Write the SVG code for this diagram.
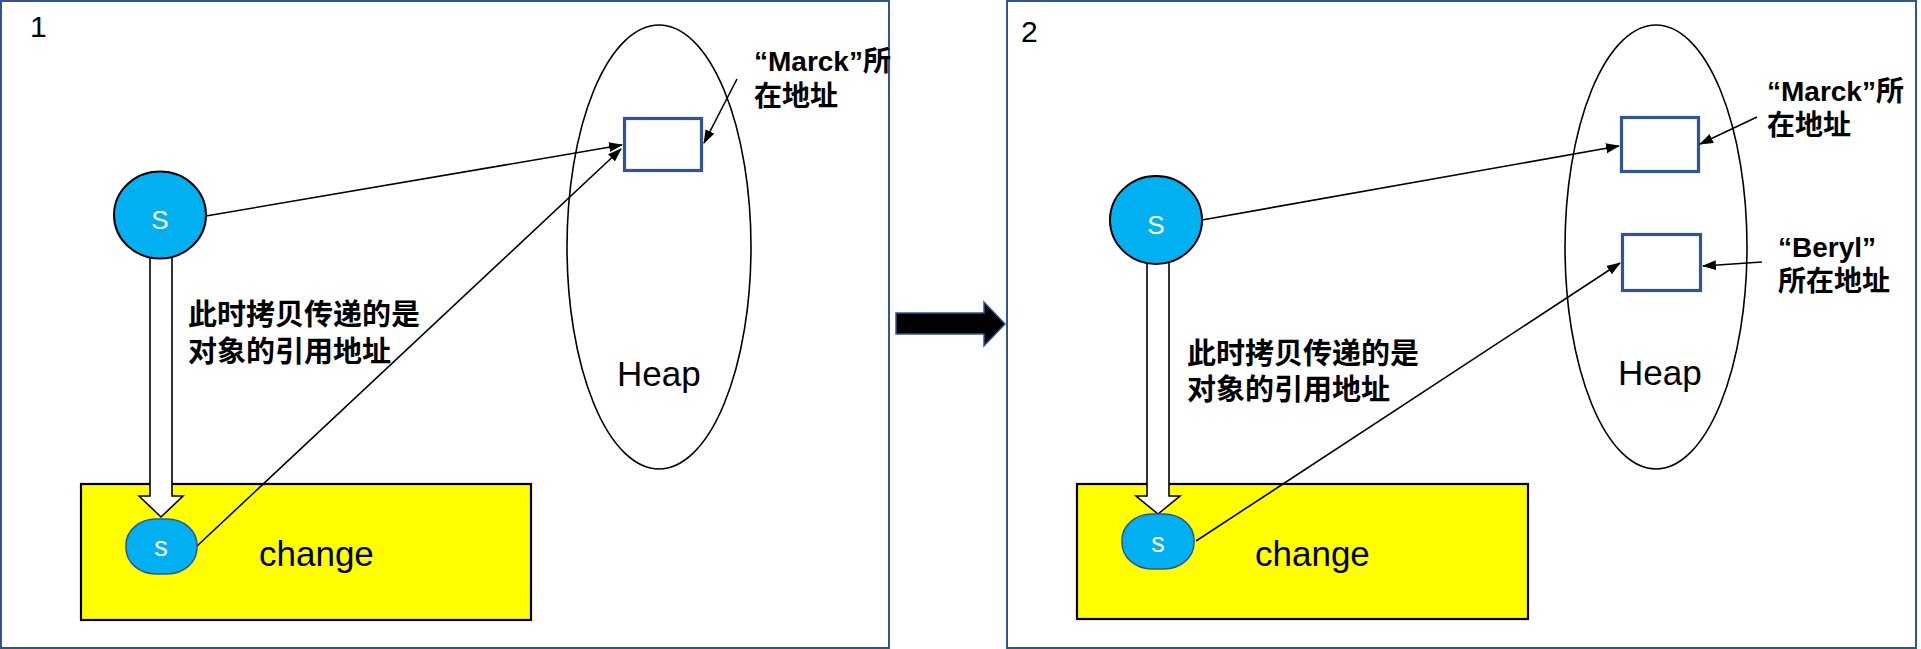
<svg xmlns="http://www.w3.org/2000/svg" width="1921" height="649" viewBox="0 0 1921 649">
<defs>
<style>
.panel{fill:#fff;stroke:#2F5597;stroke-width:2}
.heap{fill:none;stroke:#000;stroke-width:1.6}
.box{fill:#fff;stroke:#2F5597;stroke-width:3.2}
.big{fill:#00B0F0;stroke:#000;stroke-width:2}
.small{fill:#00B0F0;stroke:#2F5597;stroke-width:1.5}
.yel{fill:#FFFF00;stroke:#000;stroke-width:2.2}
.con{fill:none;stroke:#000;stroke-width:1.6}
.blk{fill:#fff;stroke:#000;stroke-width:1.6}
.num{font-family:"Liberation Sans",Arial,sans-serif;font-size:30px;fill:#000}
.lbl{font-family:"Liberation Sans","Noto Sans CJK SC",sans-serif;font-size:35px;fill:#000}
.zh{font-family:"Noto Sans CJK SC",sans-serif;font-size:29px;font-weight:bold;fill:#000}
.ann{font-family:"Liberation Sans","Noto Sans CJK SC",sans-serif;font-size:28px;font-weight:bold;fill:#000}
.sb{font-family:"Liberation Sans",Arial,sans-serif;font-size:26px;fill:#fff;text-anchor:middle}
.ss{font-family:"Liberation Sans",Arial,sans-serif;font-size:27px;fill:#fff;text-anchor:middle}
</style>
<marker id="ah" markerUnits="userSpaceOnUse" markerWidth="14" markerHeight="12" refX="13" refY="5" orient="auto">
<path d="M0,0 L14,5 L0,10 z" fill="#000"/>
</marker>
</defs>

<g id="panel1">
<rect class="panel" x="1" y="1" width="888" height="647"/>
<text class="num" x="30" y="37">1</text>
</g>
<g id="panel2">
<rect class="panel" x="1007" y="1" width="909" height="647"/>
<text class="num" x="1021" y="42">2</text>
</g>

<g id="transition-arrow">
<polygon points="896,313 984,313 984,302 1005,324 984,346 984,334 896,334" fill="#000" stroke="#2F5597" stroke-width="1.5"/>
</g>

<!-- Panel 1 nodes -->
<g id="p1-heap">
<ellipse class="heap" cx="659" cy="247" rx="92" ry="222"/>
<text class="lbl" x="617" y="386">Heap</text>
</g>
<g id="p1-marck-box">
<rect class="box" x="624.5" y="118.5" width="77" height="52"/>
</g>
<g id="p1-marck-label">
<text class="ann" x="754" y="71">“Marck”所</text>
<text class="ann" x="754" y="106">在地址</text>
</g>
<g id="p1-change">
<rect class="yel" x="81" y="484" width="450" height="136"/>
<text class="lbl" x="259" y="566">change</text>
</g>
<g id="p1-note">
<text class="zh" x="188" y="325">此时拷贝传递的是</text>
<text class="zh" x="188" y="362">对象的引用地址</text>
</g>

<!-- Panel 2 nodes -->
<g id="p2-heap">
<ellipse class="heap" cx="1656" cy="247" rx="91" ry="222"/>
<text class="lbl" x="1618" y="385">Heap</text>
</g>
<g id="p2-marck-box">
<rect class="box" x="1621.5" y="117.5" width="77" height="54"/>
</g>
<g id="p2-beryl-box">
<rect class="box" x="1622.5" y="234.5" width="78" height="56"/>
</g>
<g id="p2-marck-label">
<text class="ann" x="1767" y="101">“Marck”所</text>
<text class="ann" x="1767" y="135">在地址</text>
</g>
<g id="p2-beryl-label">
<text class="ann" x="1778" y="257">“Beryl”</text>
<text class="ann" x="1778" y="291">所在地址</text>
</g>
<g id="p2-change">
<rect class="yel" x="1077" y="484" width="451" height="135"/>
<text class="lbl" x="1255" y="566">change</text>
</g>
<g id="p2-note">
<text class="zh" x="1187" y="364">此时拷贝传递的是</text>
<text class="zh" x="1187" y="400">对象的引用地址</text>
</g>

<!-- Connectors -->
<g id="connectors">
<polygon class="blk" points="150,250 172,250 172,496 183,496 161,517 139,496 150,496"/>
<polygon class="blk" points="1147,255 1169,255 1169,496 1180,496 1158,514 1136,496 1147,496"/>
<line class="con" x1="206" y1="216" x2="622" y2="145" marker-end="url(#ah)"/>
<line class="con" x1="197" y1="546" x2="621" y2="149" marker-end="url(#ah)"/>
<line class="con" x1="737" y1="79" x2="704" y2="143" marker-end="url(#ah)"/>
<line class="con" x1="1202" y1="220" x2="1619" y2="146" marker-end="url(#ah)"/>
<line class="con" x1="1196" y1="541" x2="1620" y2="263" marker-end="url(#ah)"/>
<line class="con" x1="1757" y1="117" x2="1700" y2="144" marker-end="url(#ah)"/>
<line class="con" x1="1762" y1="262" x2="1703" y2="266" marker-end="url(#ah)"/>
</g>

<!-- s nodes (drawn over block arrows) -->
<g id="p1-s">
<ellipse class="big" cx="160" cy="215" rx="46" ry="43.5"/>
<text class="sb" x="160" y="229">S</text>
</g>
<g id="p1-s-copy">
<rect class="small" x="126" y="519" width="71" height="55" rx="30" ry="26"/>
<text class="ss" x="161" y="556">s</text>
</g>
<g id="p2-s">
<ellipse class="big" cx="1156" cy="220" rx="46" ry="44"/>
<text class="sb" x="1156" y="234">S</text>
</g>
<g id="p2-s-copy">
<rect class="small" x="1122" y="514" width="72" height="55" rx="30" ry="26"/>
<text class="ss" x="1158" y="552">s</text>
</g>
</svg>
